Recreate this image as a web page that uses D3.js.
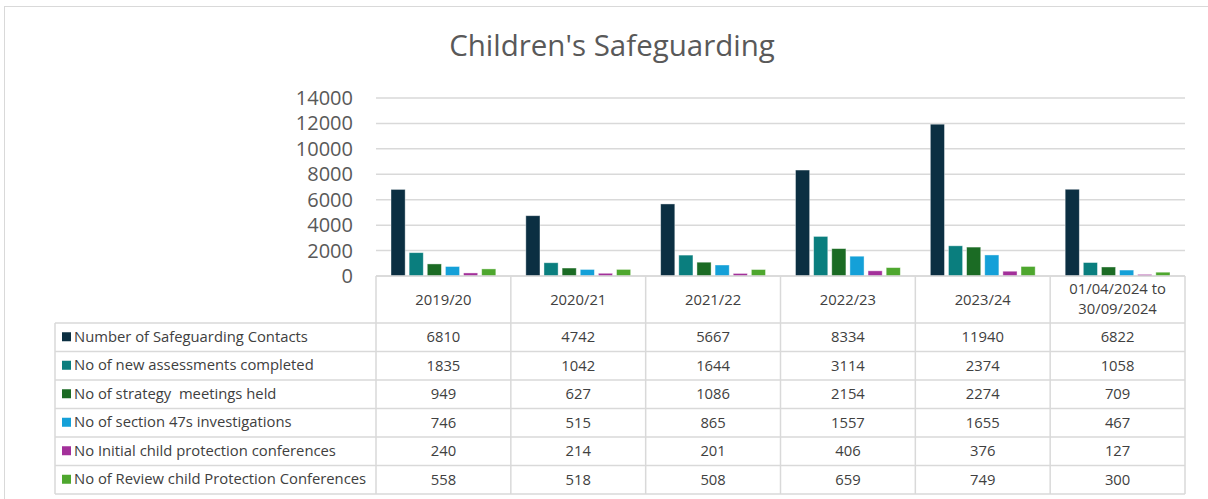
<!DOCTYPE html>
<html>
<head>
<meta charset="utf-8">
<script src="https://cdn.jsdelivr.net/npm/d3@7"></script>
<style>
  body { margin: 0; background: #fff; }
  text { font-family: "Open Sans", "Noto Sans", sans-serif; }
</style>
</head>
<body>
<script>
  // data
  var categories = ["2019/20", "2020/21", "2021/22", "2022/23", "2023/24", "01/04/2024 to|30/09/2024"];
  var seriesNames = [
    "Number of Safeguarding Contacts",
    "No of new assessments completed",
    "No of strategy  meetings held",
    "No of section 47s investigations",
    "No Initial child protection conferences",
    "No of Review child Protection Conferences"
  ];
  var contacts = [6810, 4742, 5667, 8334, 11940, 6822];
  var assessments = [1835, 1042, 1644, 3114, 2374, 1058];
  var strategy = [949, 627, 1086, 2154, 2274, 709];
  var section47 = [746, 515, 865, 1557, 1655, 467];
  var initialConf = [240, 214, 201, 406, 376, 127];
  var reviewConf = [558, 518, 508, 659, 749, 300];
  var yTicks = [0, 2000, 4000, 6000, 8000, 10000, 12000, 14000];
  var colors = ["#0b2f42", "#0a7e7e", "#1b6b24", "#14a0d8", "#a3309a", "#4ea72e"];

  var seriesValues = [contacts, assessments, strategy, section47, initialConf, reviewConf];

  var W = 1208, H = 499;
  var svg = d3.select("body").append("svg")
    .attr("width", W)
    .attr("height", H);

  // outer chart frame
  svg.append("rect")
    .attr("x", 4.5).attr("y", 6.5)
    .attr("width", W + 10).attr("height", H)
    .attr("fill", "none").attr("stroke", "#d9d9d9");

  svg.append("text")
    .attr("x", 612).attr("y", 56)
    .attr("text-anchor", "middle")
    .attr("font-size", "29.5px")
    .attr("fill", "#595959")
    .text("Children's Safeguarding");

  var plotLeft = 376, plotRight = 1185, plotTop = 98, plotBottom = 276;
  var labelLeft = 55;

  var x = d3.scaleBand().domain(d3.range(categories.length)).range([plotLeft, plotRight]);
  var xi = d3.scaleBand().domain(d3.range(seriesNames.length))
    .range([15, x.bandwidth() - 15]).paddingInner(0.22);
  var y = d3.scaleLinear().domain([0, 14000]).range([plotBottom, plotTop]);

  // gridlines
  svg.selectAll("line.grid")
    .data(yTicks)
    .enter().append("line")
    .attr("class", "grid")
    .attr("x1", plotLeft).attr("x2", plotRight)
    .attr("y1", function(d) { return y(d); })
    .attr("y2", function(d) { return y(d); })
    .attr("stroke", "#d9d9d9")
    .attr("stroke-width", 1.5);

  // y axis labels
  svg.selectAll("text.ytick")
    .data(yTicks)
    .enter().append("text")
    .attr("class", "ytick")
    .attr("x", 353)
    .attr("y", function(d) { return y(d) + 7; })
    .attr("text-anchor", "end")
    .attr("font-size", "20px")
    .attr("fill", "#595959")
    .text(function(d) { return d; });

  // bars
  var groups = svg.selectAll("g.series")
    .data(seriesValues)
    .enter().append("g")
    .attr("class", "series")
    .attr("fill", function(d, i) { return colors[i]; });

  groups.each(function(vals, si) {
    d3.select(this).selectAll("rect")
      .data(vals)
      .enter().append("rect")
      .attr("x", function(d, ci) { return x(ci) + xi(si); })
      .attr("y", function(d) { return y(d); })
      .attr("width", xi.bandwidth())
      .attr("height", function(d) { return plotBottom - y(d); })
      .attr("stroke", "#ffffff")
      .attr("stroke-opacity", 0.5)
      .attr("stroke-width", 0.8);
  });

  // data table
  var headerBottom = 323;
  var rowH = (494 - headerBottom) / seriesNames.length;
  var gridCol = "#d9d9d9";
  var t = svg.append("g").attr("stroke", gridCol).attr("stroke-width", 1.5);

  // vertical lines for category columns
  var colEdges = d3.range(categories.length + 1).map(function(i) {
    return i < categories.length ? x(i) : plotRight;
  });
  colEdges.forEach(function(cx) {
    t.append("line").attr("x1", cx).attr("x2", cx).attr("y1", plotBottom).attr("y2", 494);
  });
  t.append("line").attr("x1", labelLeft).attr("x2", labelLeft).attr("y1", headerBottom).attr("y2", 494);
  // horizontal lines
  t.append("line").attr("x1", plotLeft).attr("x2", plotRight).attr("y1", plotBottom).attr("y2", plotBottom);
  d3.range(seriesNames.length + 1).forEach(function(r) {
    var yy = headerBottom + r * rowH;
    t.append("line").attr("x1", labelLeft).attr("x2", plotRight).attr("y1", yy).attr("y2", yy);
  });

  // header labels
  categories.forEach(function(c, i) {
    var parts = c.split("|");
    var cx = x(i) + x.bandwidth() / 2;
    var txt = svg.append("text")
      .attr("text-anchor", "middle")
      .attr("font-size", "14.8px")
      .attr("fill", "#404040");
    if (parts.length === 1) {
      txt.attr("x", cx).attr("y", 305).text(c);
    } else {
      txt.append("tspan").attr("x", cx).attr("y", 294).text(parts[0]);
      txt.append("tspan").attr("x", cx).attr("y", 314).text(parts[1]);
    }
  });

  // rows
  seriesNames.forEach(function(name, si) {
    var rowY = headerBottom + si * rowH;
    svg.append("rect")
      .attr("x", 62).attr("y", rowY + rowH / 2 - 5)
      .attr("width", 9).attr("height", 9)
      .attr("fill", colors[si]);
    svg.append("text")
      .attr("x", 74).attr("y", rowY + rowH / 2 + 4.5)
      .attr("font-size", "14.8px")
      .attr("fill", "#404040")
      .style("white-space", "pre")
      .text(name);
    seriesValues[si].forEach(function(v, ci) {
      svg.append("text")
        .attr("x", x(ci) + x.bandwidth() / 2)
        .attr("y", rowY + rowH / 2 + 5)
        .attr("text-anchor", "middle")
        .attr("font-size", "14.8px")
        .attr("fill", "#404040")
        .text(v);
    });
  });
</script>
</body>
</html>
